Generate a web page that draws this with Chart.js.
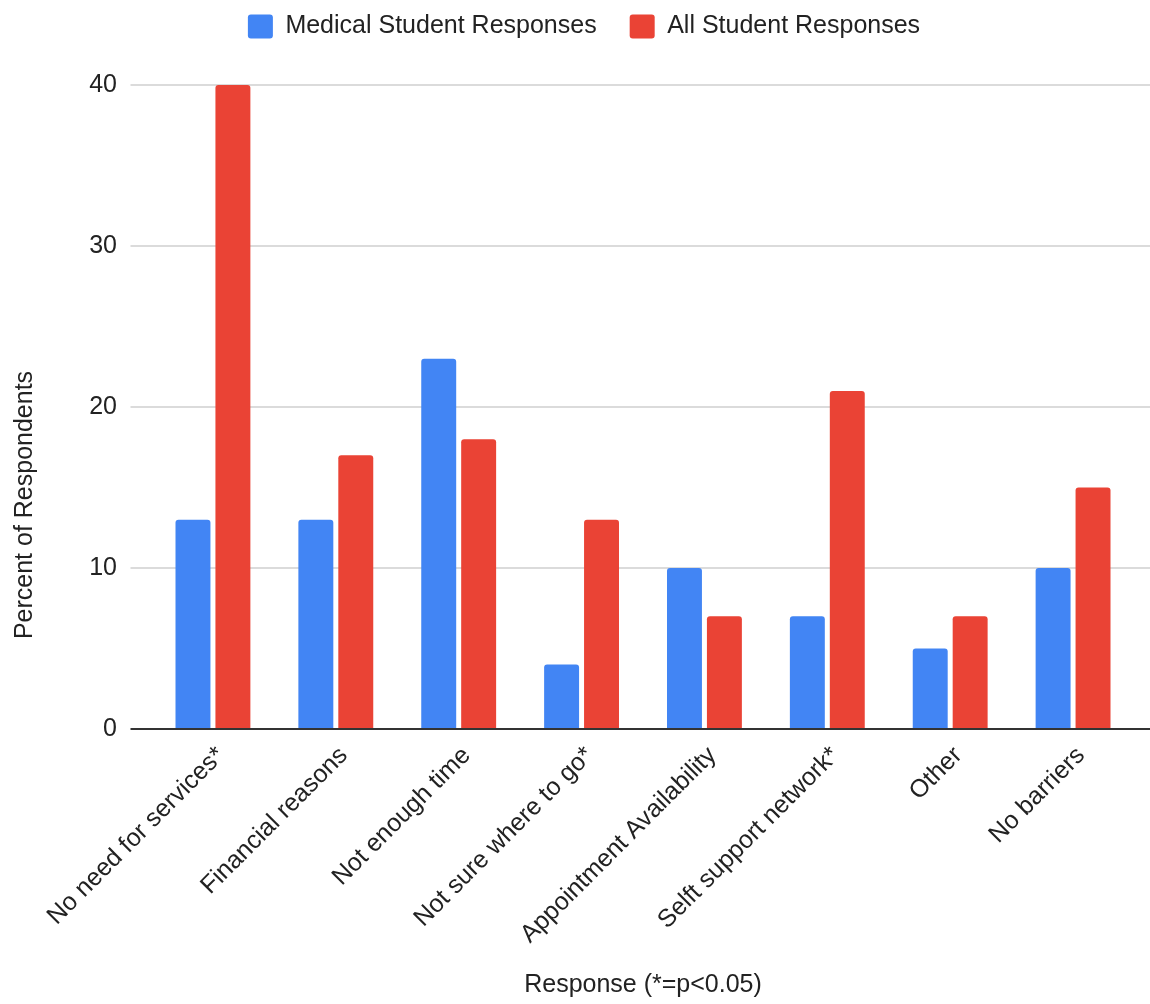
<!DOCTYPE html>
<html>
<head>
<meta charset="utf-8">
<script src="https://cdn.jsdelivr.net/npm/chart.js@4.4.1/dist/chart.umd.min.js"></script>
<style>
  html, body { margin: 0; padding: 0; background: #ffffff; }
  #cadre { width: 1150px; height: 1004px; }
</style>
</head>
<body>
<div id="cadre"><canvas id="barriers" width="1150" height="1004"></canvas></div>
<script>
const categories = [
  'No need for services*',
  'Financial reasons',
  'Not enough time',
  'Not sure where to go*',
  'Appointment Availability',
  'Selft support network*',
  'Other',
  'No barriers'
];
const medicalValues = [13, 13, 23, 4, 10, 7, 5, 10];
const allValues = [40, 17, 18, 13, 7, 21, 7, 15];
const seriesNames = ['Medical Student Responses', 'All Student Responses'];
const yTickValues = [0, 10, 20, 30, 40];
const yTitle = 'Percent of Respondents';
const xTitle = 'Response (*=p<0.05)';

const police = 'Arial, "Liberation Sans", Helvetica, sans-serif';
const encre = '#222222';

// Sheets draws the grid lines wider than the bar area, so draw them here
const grilleLarge = {
  id: 'grilleLarge',
  beforeInit(chart) {
    const fitOrig = chart.legend.fit;
    chart.legend.fit = function () {
      fitOrig.call(this);
      this.height = 104;
    };
  },
  beforeDatasetsDraw(chart) {
    const y = chart.scales.y;
    const ctx = chart.ctx;
    const x0 = chart.chartArea.left - 21;
    ctx.save();
    ctx.strokeStyle = '#cfcfcf';
    ctx.lineWidth = 1.5;
    y.ticks.forEach(t => {
      if (t.value === 0) return;
      const py = Math.round(y.getPixelForValue(t.value));
      ctx.beginPath();
      ctx.moveTo(x0, py);
      ctx.lineTo(chart.width, py);
      ctx.stroke();
    });
    ctx.restore();
  },
  afterDatasetsDraw(chart) {
    const y = chart.scales.y;
    const ctx = chart.ctx;
    const py = Math.round(y.getPixelForValue(0));
    ctx.save();
    ctx.strokeStyle = '#333333';
    ctx.lineWidth = 2;
    ctx.beginPath();
    ctx.moveTo(chart.chartArea.left - 21, py);
    ctx.lineTo(chart.width, py);
    ctx.stroke();
    // y title, centred on the whole picture like the original
    ctx.fillStyle = encre;
    ctx.font = '25px ' + police;
    ctx.textAlign = 'center';
    ctx.textBaseline = 'middle';
    ctx.translate(25, chart.height / 2 + 3);
    ctx.rotate(-Math.PI / 2);
    ctx.fillText(yTitle, 0, 0);
    ctx.restore();
  }
};

const ctx = document.getElementById('barriers').getContext('2d');
new Chart(ctx, {
  type: 'bar',
  data: {
    labels: categories,
    datasets: [
      {
        label: seriesNames[0],
        data: medicalValues,
        backgroundColor: '#4285f4',
        borderRadius: 3,
        barPercentage: 0.875,
        categoryPercentage: 0.65
      },
      {
        label: seriesNames[1],
        data: allValues,
        backgroundColor: '#ea4335',
        borderRadius: 3,
        barPercentage: 0.875,
        categoryPercentage: 0.65
      }
    ]
  },
  options: {
    responsive: false,
    animation: false,
    devicePixelRatio: 1,
    layout: {
      padding: { left: 33.5, right: 15.5, top: -19, bottom: 0 }
    },
    plugins: {
      legend: {
        position: 'top',
        labels: {
          font: { family: police, size: 25 },
          color: encre,
          boxWidth: 25,
          boxHeight: 24,
          padding: 33,
          useBorderRadius: true,
          borderRadius: 3
        }
      },
      tooltip: { enabled: false }
    },
    scales: {
      x: {
        grid: { display: false },
        border: { display: false },
        ticks: {
          font: { family: police, size: 25 },
          color: encre,
          minRotation: 45,
          maxRotation: 45,
          autoSkip: false,
          padding: 4,
          labelOffset: 8
        },
        title: {
          display: true,
          text: xTitle,
          font: { family: police, size: 25 },
          color: encre,
          padding: { top: 0, bottom: 4 }
        },
        afterFit(s) { s.height = 275; }
      },
      y: {
        min: 0,
        max: 40,
        grid: { display: false },
        border: { display: false },
        afterBuildTicks(s) { s.ticks = yTickValues.map(v => ({ value: v })); },
        ticks: {
          font: { family: police, size: 25 },
          color: encre,
          padding: 26.5
        },
        afterFit(s) { s.width = 118; }
      }
    }
  },
  plugins: [grilleLarge]
});
</script>
</body>
</html>
